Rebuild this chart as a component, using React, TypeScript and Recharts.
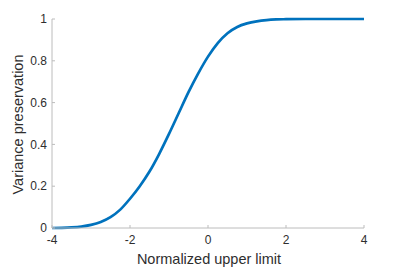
import React from 'react';
import { LineChart, Line, XAxis, YAxis, Label } from 'recharts';

const xValues = [-4, -3.75, -3.5, -3.25, -3, -2.75, -2.5, -2.25, -2, -1.75, -1.5, -1.25, -1, -0.75, -0.5, -0.25, 0, 0.25, 0.5, 0.75, 1, 1.25, 1.5, 1.75, 2, 2.5, 3, 3.5, 4];
const variance = [0.0, 0.001, 0.003, 0.007, 0.015, 0.029, 0.052, 0.088, 0.14, 0.2, 0.27, 0.355, 0.45, 0.55, 0.65, 0.74, 0.82, 0.885, 0.932, 0.962, 0.979, 0.989, 0.995, 0.998, 0.999, 1.0, 1.0, 1.0, 1.0];
const xTicks = [-4, -2, 0, 2, 4];
const yTicks = [0, 0.2, 0.4, 0.6, 0.8, 1];

const data = xValues.map((x, i) => ({ x, v: variance[i] }));

const FONT = '"Liberation Sans", Arial, sans-serif';
const TICK_COLOR = '#2e2e2e';
const AXIS_COLOR = '#bcbcbc';
const TICK_LEN = 3;

const BottomTick = (props: any) => {
  const { x, y, payload } = props;
  return (
    <g>
      <line x1={x} x2={x} y1={y} y2={y - TICK_LEN} stroke={AXIS_COLOR} />
      <text x={x} y={y + 12} dy="0.35em" textAnchor="middle" fill={TICK_COLOR} fontSize={12} fontFamily={FONT}>
        {payload.value}
      </text>
    </g>
  );
};

const TopTick = (props: any) => {
  const { x, y } = props;
  return <line x1={x} x2={x} y1={y} y2={y + TICK_LEN} stroke={AXIS_COLOR} />;
};

const LeftTick = (props: any) => {
  const { x, y, payload } = props;
  return (
    <g>
      <line x1={x} x2={x + TICK_LEN} y1={y} y2={y} stroke={AXIS_COLOR} />
      <text x={x - 5} y={y} dy="0.35em" textAnchor="end" fill={TICK_COLOR} fontSize={12} fontFamily={FONT}>
        {payload.value}
      </text>
    </g>
  );
};

const RightTick = (props: any) => {
  const { x, y } = props;
  return <line x1={x} x2={x - TICK_LEN} y1={y} y2={y} stroke={AXIS_COLOR} />;
};

export default function App() {
  return (
    <div style={{ position: 'absolute', left: 0, top: 0, background: '#fff' }}>
      <LineChart width={403} height={279} data={data} margin={{ top: 19, right: 39, left: 0, bottom: 0 }}>
        <XAxis
          xAxisId="bottom"
          dataKey="x"
          type="number"
          domain={[-4, 4]}
          ticks={xTicks}
          tickSize={0}
          tickMargin={0}
          tickLine={false}
          stroke={AXIS_COLOR}
          height={51}
          tick={<BottomTick />}
          interval={0}
        >
          <Label
            content={() => (
              <text x={209} y={264} textAnchor="middle" fill={TICK_COLOR} fontSize={14.5} fontFamily={FONT}>
                Normalized upper limit
              </text>
            )}
          />
        </XAxis>
        <XAxis
          xAxisId="top"
          orientation="top"
          dataKey="x"
          type="number"
          domain={[-4, 4]}
          ticks={xTicks}
          tickSize={0}
          tickMargin={0}
          tickLine={false}
          stroke={AXIS_COLOR}
          height={0}
          tick={<TopTick />}
          interval={0}
        />
        <YAxis
          yAxisId="left"
          type="number"
          domain={[0, 1]}
          ticks={yTicks}
          tickSize={0}
          tickMargin={0}
          tickLine={false}
          stroke={AXIS_COLOR}
          width={52}
          tick={<LeftTick />}
          interval={0}
        >
          <Label
            content={() => (
              <text
                x={18}
                y={124.5}
                transform="rotate(-90 18 124.5)"
                dy="0.35em"
                textAnchor="middle"
                fill={TICK_COLOR}
                fontSize={14.5}
                fontFamily={FONT}
              >
                Variance preservation
              </text>
            )}
          />
        </YAxis>
        <YAxis
          yAxisId="right"
          orientation="right"
          type="number"
          domain={[0, 1]}
          ticks={yTicks}
          tickSize={0}
          tickMargin={0}
          tickLine={false}
          stroke={AXIS_COLOR}
          width={0}
          tick={<RightTick />}
          interval={0}
        />
        <Line
          xAxisId="bottom"
          yAxisId="left"
          type="monotone"
          dataKey="v"
          stroke="#0072BD"
          strokeWidth={2.7}
          dot={false}
          isAnimationActive={false}
        />
      </LineChart>
    </div>
  );
}
